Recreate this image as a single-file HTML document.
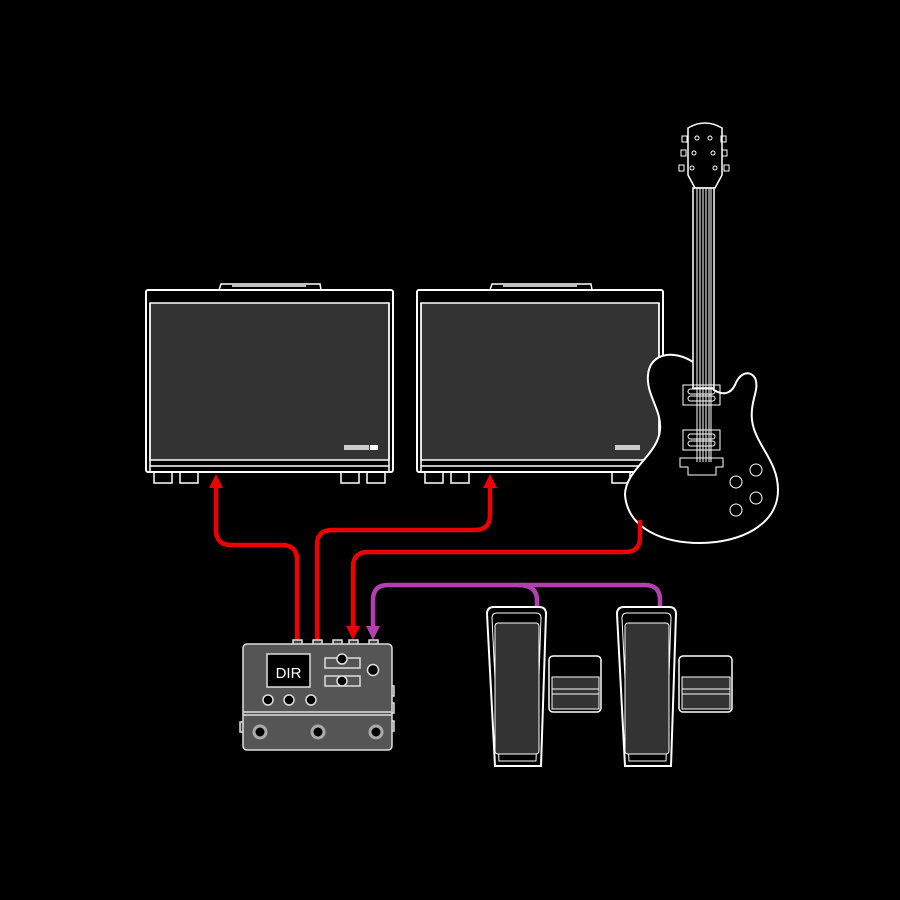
<!DOCTYPE html>
<html><head><style>html,body{margin:0;padding:0;background:#000;}svg{display:block;}</style></head>
<body>
<svg width="900" height="900" viewBox="0 0 900 900" xmlns="http://www.w3.org/2000/svg">
<rect width="900" height="900" fill="#000"/>
<g stroke="#fff" stroke-width="1.5" fill="none">
<!-- Amp 1 -->
<path d="M219 290 L221 284 L320 284 L321 290" />
<line x1="232" y1="286" x2="306" y2="286"/>
<rect x="146" y="290" width="247" height="182" rx="2" fill="#000" stroke-width="2"/>
<rect x="150" y="303" width="239" height="157" fill="#333"/>
<line x1="150" y1="466" x2="389" y2="466"/>
<line x1="150" y1="303" x2="150" y2="472"/><line x1="389" y1="303" x2="389" y2="472"/>
<rect x="154" y="472" width="18" height="11"/><rect x="180" y="472" width="18" height="11"/>
<rect x="341" y="472" width="18" height="11"/><rect x="367" y="472" width="18" height="11"/>
<!-- Amp 2 -->
<path d="M490 290 L492 284 L591 284 L592 290" />
<line x1="503" y1="286" x2="577" y2="286"/>
<rect x="417" y="290" width="246" height="182" rx="2" fill="#000" stroke-width="2"/>
<rect x="421" y="303" width="238" height="157" fill="#333"/>
<line x1="421" y1="466" x2="659" y2="466"/>
<line x1="421" y1="303" x2="421" y2="472"/><line x1="659" y1="303" x2="659" y2="472"/>
<rect x="425" y="472" width="18" height="11"/><rect x="451" y="472" width="18" height="11"/>
<rect x="612" y="472" width="18" height="11"/>
</g>
<rect x="344" y="445" width="25" height="5" fill="#ccc"/><rect x="370" y="445" width="8" height="5" fill="#fff"/>
<rect x="615" y="445" width="25" height="5" fill="#ccc"/>
<!-- Guitar -->
<g stroke="#fff" fill="#000">
<path d="M693 362 C675 350,650 352,648 375 C646 395,662 410,660 430 C658 455,625 470,625 495 C628 530,665 543,700 543 C740 543,778 525,778 490 C778 460,755 445,752 420 C750 400,760 390,755 378 C750 370,740 372,735 385 C730 395,722 395,714 390 Z" stroke-width="2"/>
<path d="M695 188 L688 175 L688 128 Q705 118 722 128 L722 175 L715 188 Z" stroke-width="1.5"/>
<rect x="693" y="188" width="21" height="200" stroke-width="1.5"/>
<g stroke-width="1" fill="none">
<line x1="697" y1="188" x2="697" y2="462"/><line x1="700" y1="188" x2="700" y2="462"/><line x1="703" y1="188" x2="703" y2="462"/><line x1="706" y1="188" x2="706" y2="462"/><line x1="709" y1="188" x2="709" y2="462"/><line x1="711" y1="188" x2="711" y2="462"/>
<rect x="683" y="385" width="37" height="20"/><rect x="688" y="389" width="27" height="5" rx="2.5"/><rect x="688" y="396" width="27" height="5" rx="2.5"/>
<rect x="683" y="430" width="37" height="20"/><rect x="688" y="434" width="27" height="5" rx="2.5"/><rect x="688" y="441" width="27" height="5" rx="2.5"/>
<path d="M680 458 L723 458 L723 467 L716 467 L716 475 L688 475 L688 467 L680 467 Z"/>
<circle cx="736" cy="482" r="6"/><circle cx="756" cy="470" r="6"/><circle cx="756" cy="498" r="6"/><circle cx="736" cy="510" r="6"/>
<rect x="682" y="136" width="5" height="6"/><rect x="681" y="150" width="5" height="6"/><rect x="679" y="165" width="5" height="6"/>
<rect x="721" y="136" width="5" height="6"/><rect x="722" y="150" width="5" height="6"/><rect x="724" y="165" width="5" height="6"/>
<circle cx="697" cy="138" r="2"/><circle cx="694" cy="153" r="2"/><circle cx="692" cy="168" r="2"/>
<circle cx="710" cy="138" r="2"/><circle cx="713" cy="153" r="2"/><circle cx="715" cy="168" r="2"/>
</g>
</g>
<!-- Cables -->
<g fill="none" stroke-width="4.5">
<path d="M297 645 L297 560 Q297 545 282 545 L231 545 Q216 545 216 530 L216 486" stroke="#e00"/>
<path d="M317 645 L317 545 Q317 530 332 530 L475 530 Q490 530 490 515 L490 486" stroke="#e00"/>
<path d="M640 520 L640 537 Q640 552 625 552 L368 552 Q353 552 353 567 L353 628" stroke="#e00"/>
<path d="M373 628 L373 600 Q373 585 388 585 L645 585 Q660 585 660 600 L660 607" stroke="#b43fb0"/>
<path d="M518 585 Q537 585 537 600 L537 607" stroke="#b43fb0"/>
</g>
<g stroke="none">
<path d="M209 488 L216 474 L223 488 Z" fill="#e00"/>
<path d="M483 488 L490 474 L497 488 Z" fill="#e00"/>
<path d="M346 626 L353 640 L360 626 Z" fill="#e00"/>
<path d="M366 626 L373 640 L380 626 Z" fill="#b43fb0"/>
</g>
<!-- Helix -->
<g stroke="#ddd" stroke-width="1.5">
<rect x="293" y="640" width="9" height="5" fill="#444"/><rect x="313" y="640" width="9" height="5" fill="#444"/><rect x="333" y="640" width="9" height="5" fill="#444"/><rect x="349" y="640" width="9" height="5" fill="#444"/><rect x="369" y="640" width="9" height="5" fill="#444"/>
<rect x="389" y="686" width="5" height="10" fill="#444"/><rect x="389" y="703" width="5" height="10" fill="#444"/><rect x="389" y="721" width="5" height="10" fill="#444"/><rect x="240" y="722" width="5" height="10" fill="#444"/>
<rect x="243" y="644" width="149" height="106" rx="4" fill="#555"/>
<line x1="243" y1="712" x2="392" y2="712"/><line x1="243" y1="715" x2="392" y2="715"/>
<rect x="267" y="654" width="43" height="33" fill="#000"/>
<rect x="325" y="658" width="35" height="10" fill="none"/><rect x="325" y="676" width="35" height="10" fill="none"/>
<circle cx="342" cy="659" r="5" fill="#000"/><circle cx="342" cy="681" r="5" fill="#000"/>
<circle cx="373" cy="670" r="5.5" fill="#000"/>
<circle cx="268" cy="700" r="5" fill="#000"/><circle cx="289" cy="700" r="5" fill="#000"/><circle cx="311" cy="700" r="5" fill="#000"/>
<circle cx="260" cy="732" r="6" fill="#000" stroke="#aaa" stroke-width="3"/><circle cx="318" cy="732" r="6" fill="#000" stroke="#aaa" stroke-width="3"/><circle cx="376" cy="732" r="6" fill="#000" stroke="#aaa" stroke-width="3"/>
</g>
<text x="288.5" y="678" font-family="Liberation Sans, sans-serif" font-size="15" fill="#fff" text-anchor="middle">DIR</text>
<!-- Pedals -->
<g stroke="#fff" stroke-width="1.5">
<path d="M494 607 L539 607 Q546 607 546 614 L541 766 L495 766 L487 614 Q487 607 494 607 Z" fill="#000" stroke-width="2"/>
<path d="M497 613 L536 613 Q541 613 541 618 L536 761 L499 761 L492 618 Q492 613 497 613 Z" fill="none" stroke-width="1"/>
<rect x="495" y="623" width="44" height="131" rx="3" fill="#333" stroke-width="1"/>
<rect x="549" y="656" width="52" height="56" rx="4" fill="#000"/>
<rect x="552" y="677" width="47" height="32" fill="#333" stroke-width="1"/>
<line x1="552" y1="689" x2="599" y2="689" stroke-width="1"/><line x1="552" y1="694" x2="599" y2="694" stroke-width="1"/>
<path d="M624 607 L669 607 Q676 607 676 614 L671 766 L625 766 L617 614 Q617 607 624 607 Z" fill="#000" stroke-width="2"/>
<path d="M627 613 L666 613 Q671 613 671 618 L666 761 L629 761 L622 618 Q622 613 627 613 Z" fill="none" stroke-width="1"/>
<rect x="625" y="623" width="44" height="131" rx="3" fill="#333" stroke-width="1"/>
<rect x="679" y="656" width="53" height="56" rx="4" fill="#000"/>
<rect x="682" y="677" width="48" height="32" fill="#333" stroke-width="1"/>
<line x1="682" y1="689" x2="730" y2="689" stroke-width="1"/><line x1="682" y1="694" x2="730" y2="694" stroke-width="1"/>
</g>
</svg>
</body></html>
